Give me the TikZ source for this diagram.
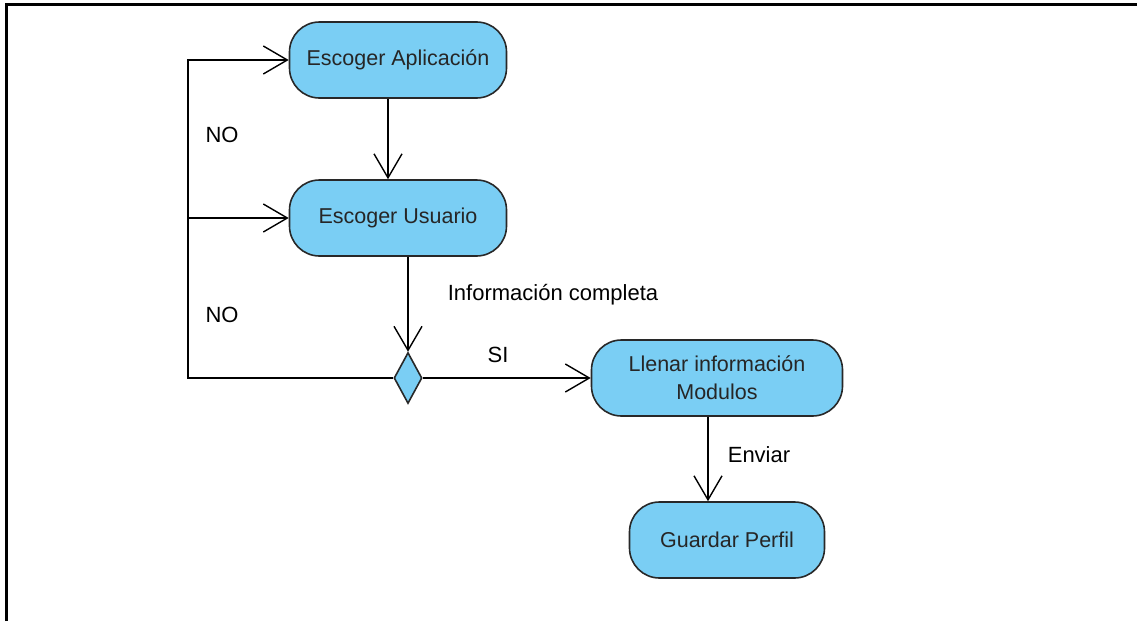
\documentclass[tikz,border=0pt]{standalone}
\usepackage{fontspec}
\setmainfont{Liberation Sans}
\usetikzlibrary{arrows.meta,shapes.geometric}
\definecolor{actfill}{RGB}{122,206,244}
\definecolor{actline}{RGB}{40,40,40}
\tikzset{
  act/.style={draw=actline, line width=1.6pt, fill=actfill, rounded corners=30pt,
    minimum width=#1, minimum height=76pt, inner sep=2pt, align=center,
    font=\fontsize{21.5}{28}\selectfont, text=black!85},
  act/.default=217pt,
  decision/.style={draw=actline, line width=1.6pt, fill=actfill, diamond,
    inner sep=0pt, minimum width=28pt, minimum height=51pt},
  arr/.style={line width=1.4pt, -{Straight Barb[length=24pt,width=28pt,line width=1.4pt]}},
  lbl/.style={font=\fontsize{22}{26}\selectfont, inner sep=0pt},
}
\begin{document}
\begin{tikzpicture}[x=1pt,y=-1pt]
\useasboundingbox (0,0) rectangle (1137,621);
\draw[line width=2.5pt] (6.5,621) -- (6.5,4.5) -- (1137,4.5);

\node[act=217pt] (app) at (398,60) {Escoger Aplicación};
\node[act=217pt] (usr) at (398,218) {Escoger Usuario};
\node[decision] (dia) at (408,378) {};
\node[act=251pt] (lle) at (717,378) {Llenar información\\Modulos};
\node[act=195pt] (gua) at (727,540) {Guardar Perfil};

\coordinate (lx) at (188,0);
\coordinate (cA) at (388,0);
\coordinate (cE) at (708,0);

\draw[arr] (app.south -| cA) -- (usr.north -| cA);
\draw[arr] (usr.south -| dia.north) -- (dia.north);
\draw[arr] (dia.east) -- (lle.west);
\draw[arr] (lle.south -| cE) -- (gua.north -| cE);
\draw[arr] (dia.west) -- (dia.west -| lx) -- (app.west -| lx) -- (app.west);
\draw[arr] (usr.west -| lx) -- (usr.west);

\node[lbl] (no1) at (222,135) {NO};
\node[lbl] (no2) at (222,315) {NO};
\node[lbl] (inf) at (553,295) {Información completa};
\node[lbl] (si) at (498,355) {SI};
\node[lbl] (env) at (759,455) {Enviar};
\end{tikzpicture}
\end{document}
